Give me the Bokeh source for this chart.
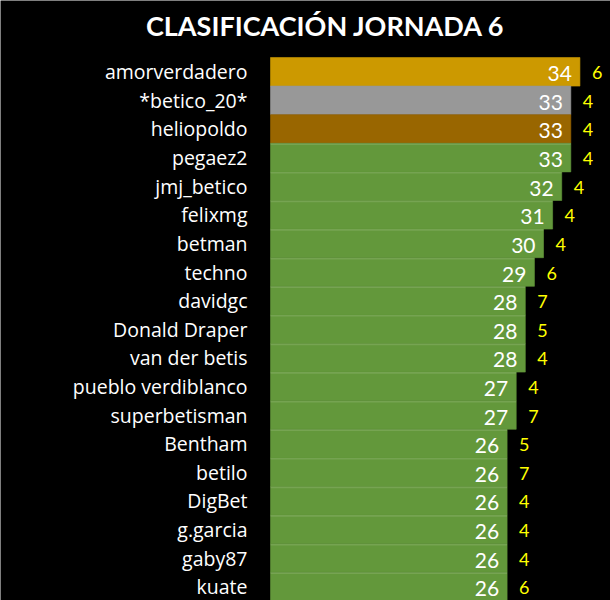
from bokeh.plotting import figure
from bokeh.models import Range1d, ColumnDataSource
from bokeh.core.properties import value
from bokeh.transform import dodge
from bokeh.embed import file_html
from bokeh.resources import INLINE

names = ["amorverdadero", "*betico_20*", "heliopoldo", "pegaez2", "jmj_betico",
         "felixmg", "betman", "techno", "davidgc", "Donald Draper", "van der betis",
         "pueblo verdiblanco", "superbetisman", "Bentham", "betilo", "DigBet",
         "g.garcia", "gaby87", "kuate"]
points = [34, 33, 33, 33, 32, 31, 30, 29, 28, 28, 28, 27, 27, 26, 26, 26, 26, 26, 26]
extra = [6, 4, 4, 4, 4, 4, 4, 6, 7, 5, 4, 4, 7, 5, 7, 4, 4, 4, 6]
title_text = "CLASIFICACIÓN JORNADA 6"

colors = ["#CC9900", "#989898", "#996600"] + ["#63983B"] * (len(names) - 3)
rows = list(range(len(names)))

src = ColumnDataSource(dict(name=names, pts=points, ext=[str(e) for e in extra],
                            ptxt=[str(v) for v in points], row=rows, color=colors))
green = ColumnDataSource(dict(row=rows[3:], pts=points[3:]))

FONT = "Lato"
p = figure(width=610, height=600, output_backend="svg", toolbar_location=None,
           x_range=Range1d(-29.67, 37.36), y_range=Range1d(18.486, -2.493),
           min_border=0, background_fill_color="black", border_fill_color="black",
           outline_line_color=None)
p.xaxis.visible = False
p.yaxis.visible = False
p.grid.visible = False

p.hbar(y="row", left=0, right="pts", height=1.0, fill_color="color",
       line_color="color", line_alpha=0.6, source=src)
# thin lighter edge at the top of each green bar
p.hbar(y=dodge("row", -0.47), left=0, right="pts", height=0.06,
       fill_color="white", fill_alpha=0.12, line_color=None, source=green)

p.text(x=0, y="row", text="name", source=src, x_offset=-23, text_align="right",
       text_baseline="middle", text_color="white", text_font=value("Open Sans"),
       text_font_size="19.5px")
p.text(x="pts", y="row", text="ptxt", source=src, x_offset=-8, y_offset=2,
       text_align="right", text_baseline="middle", text_color="white",
       text_font=value(FONT), text_font_size="21px")
p.text(x="pts", y="row", text="ext", source=src, x_offset=12, y_offset=1,
       text_align="left", text_baseline="middle", text_color="#FFFF00",
       text_font=value(FONT), text_font_size="18px")

p.text(x=[6.04], y=[-1.62], text=[title_text], text_align="center",
       text_baseline="middle", text_color="white", text_font=value(FONT),
       text_font_style="bold", text_font_size="27px")

open("out.html", "w").write(file_html(p, INLINE))
